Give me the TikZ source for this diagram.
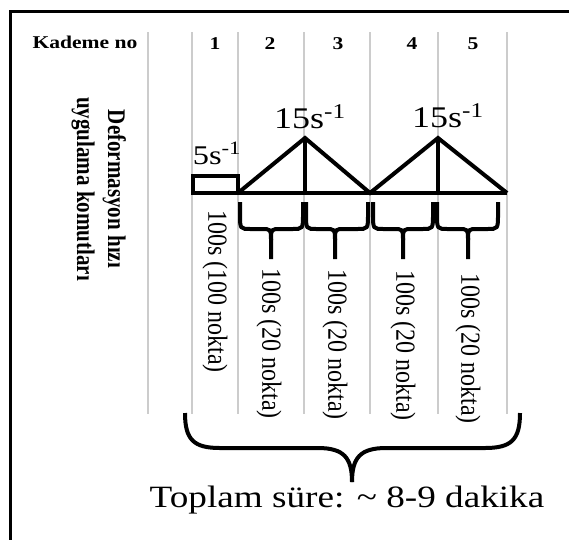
\documentclass[tikz,border=0pt]{standalone}
\usepackage{fontspec}
\setmainfont{Liberation Serif}
\usepackage{tikz}
\usetikzlibrary{positioning}

\newcommand{\wide}[1]{\scalebox{1.2}[1]{#1}}
\newcommand{\tall}[1]{\scalebox{1}[1.15]{#1}}

\begin{document}
\begin{tikzpicture}[x=1pt,y=-1pt,
	grid line/.style={draw=black!20,line width=1.2pt},
	rate line/.style={line width=4pt},
	brace line/.style={line width=4pt},
	head/.style={font=\fontsize{18}{20}\selectfont\bfseries,inner sep=0pt,anchor=base},
	side/.style={font=\fontsize{21}{24}\selectfont\bfseries,inner sep=0pt,anchor=base,rotate=-90},
	time/.style={font=\fontsize{24}{26}\selectfont,inner sep=0pt,anchor=west,rotate=-90},
	rate/.style={inner sep=0pt,anchor=base}]
	\clip (0,0) rectangle (569,539);
	\fill[white] (0,0) rectangle (569,539);
	\draw[line width=3pt] (10,11) rectangle (590,560);
	% column lines
	\draw[grid line] (148,32) -- (148,414);
	\draw[grid line] (192,32) -- (192,414);
	\draw[grid line] (238,32) -- (238,414);
	\draw[grid line] (304,32) -- (304,414);
	\draw[grid line] (370,32) -- (370,414);
	\draw[grid line] (438,32) -- (438,414);
	\draw[grid line] (507,32) -- (507,414);
	% header
	\node[head] (kademe) at (85,48) {\wide{Kademe no}};
	\node[head] (k1) at (215,49) {\wide{1}};
	\node[head] (k2) at (270,49) {\wide{2}};
	\node[head] (k3) at (338,49) {\wide{3}};
	\node[head] (k4) at (412,49) {\wide{4}};
	\node[head] (k5) at (473,49) {\wide{5}};
	\node[side] (def1) at (108,189) {\tall{\scalebox{1}[1.05]{Deformasyon hızı}}};
	\node[side] (def2) at (77,189) {\tall{\scalebox{1}[1.05]{uygulama komutları}}};
	% rate profile
	\coordinate (p0) at (193,193);
	\coordinate (p1) at (238,193);
	\coordinate (p2) at (305,138);
	\coordinate (p3) at (370,193);
	\coordinate (p4) at (438,138);
	\coordinate (p5) at (507,193);
	\draw[rate line] (p0) rectangle (238,176);
	\draw[rate line] (p1) -- (p5);
	\draw[rate line] (p1) -- (p2) -- (p3) -- (p4) -- (p5);
	\draw[rate line] (p2) -- (305,193);
	\draw[rate line] (p4) -- (438,193);
	\node[rate,font=\fontsize{27}{29}\selectfont] (r1) at (217,164) {\wide{5s\textsuperscript{-1}}};
	\node[rate,font=\fontsize{30}{32}\selectfont] (r2) at (310,128) {\wide{15s\textsuperscript{-1}}};
	\node[rate,font=\fontsize{30}{32}\selectfont] (r3) at (448,127) {\wide{15s\textsuperscript{-1}}};
	% small braces
	\draw[brace line] (240,202) -- (240,214) .. controls (240,229) .. (251,229) -- (261,229) .. controls (271,229) .. (271,240) -- (271,259);
	\draw[brace line] (303,202) -- (303,214) .. controls (303,229) .. (292,229) -- (281,229) .. controls (271,229) .. (271,240);
	\draw[brace line] (306,202) -- (306,214) .. controls (306,229) .. (317,229) -- (325,229) .. controls (335,229) .. (335,240) -- (335,259);
	\draw[brace line] (368,202) -- (368,214) .. controls (368,229) .. (357,229) -- (345,229) .. controls (335,229) .. (335,240);
	\draw[brace line] (373,202) -- (373,214) .. controls (373,229) .. (384,229) -- (393,229) .. controls (403,229) .. (403,240) -- (403,259);
	\draw[brace line] (433,202) -- (433,214) .. controls (433,229) .. (422,229) -- (413,229) .. controls (403,229) .. (403,240);
	\draw[brace line] (437,202) -- (437,214) .. controls (437,229) .. (448,229) -- (458,229) .. controls (468,229) .. (468,240) -- (468,259);
	\draw[brace line] (498,202) -- (498,214) .. controls (498,229) .. (487,229) -- (478,229) .. controls (468,229) .. (468,240);
	% durations
	\node[time] (t1) at (215,210) {\tall{100s (100 nokta)}};
	\node[time] (t2) at (269,268) {\tall{100s (20 nokta)}};
	\node[time] (t3) at (335,269) {\tall{100s (20 nokta)}};
	\node[time] (t4) at (403,270) {\tall{100s (20 nokta)}};
	\node[time] (t5) at (468,273) {\tall{100s (20 nokta)}};
	% total brace
	\draw[brace line] (185,413) .. controls (185,440) and (194,448) .. (220,448) -- (318,448) .. controls (344,448) and (352,458) .. (352,482);
	\draw[brace line] (520,413) .. controls (520,440) and (511,448) .. (485,448) -- (386,448) .. controls (360,448) and (352,458) .. (352,482);
	\node[rate,font=\fontsize{31}{33}\selectfont] (total) at (347,507) {\wide{Toplam süre: \textasciitilde{} 8-9 dakika}};
\end{tikzpicture}
\end{document}
